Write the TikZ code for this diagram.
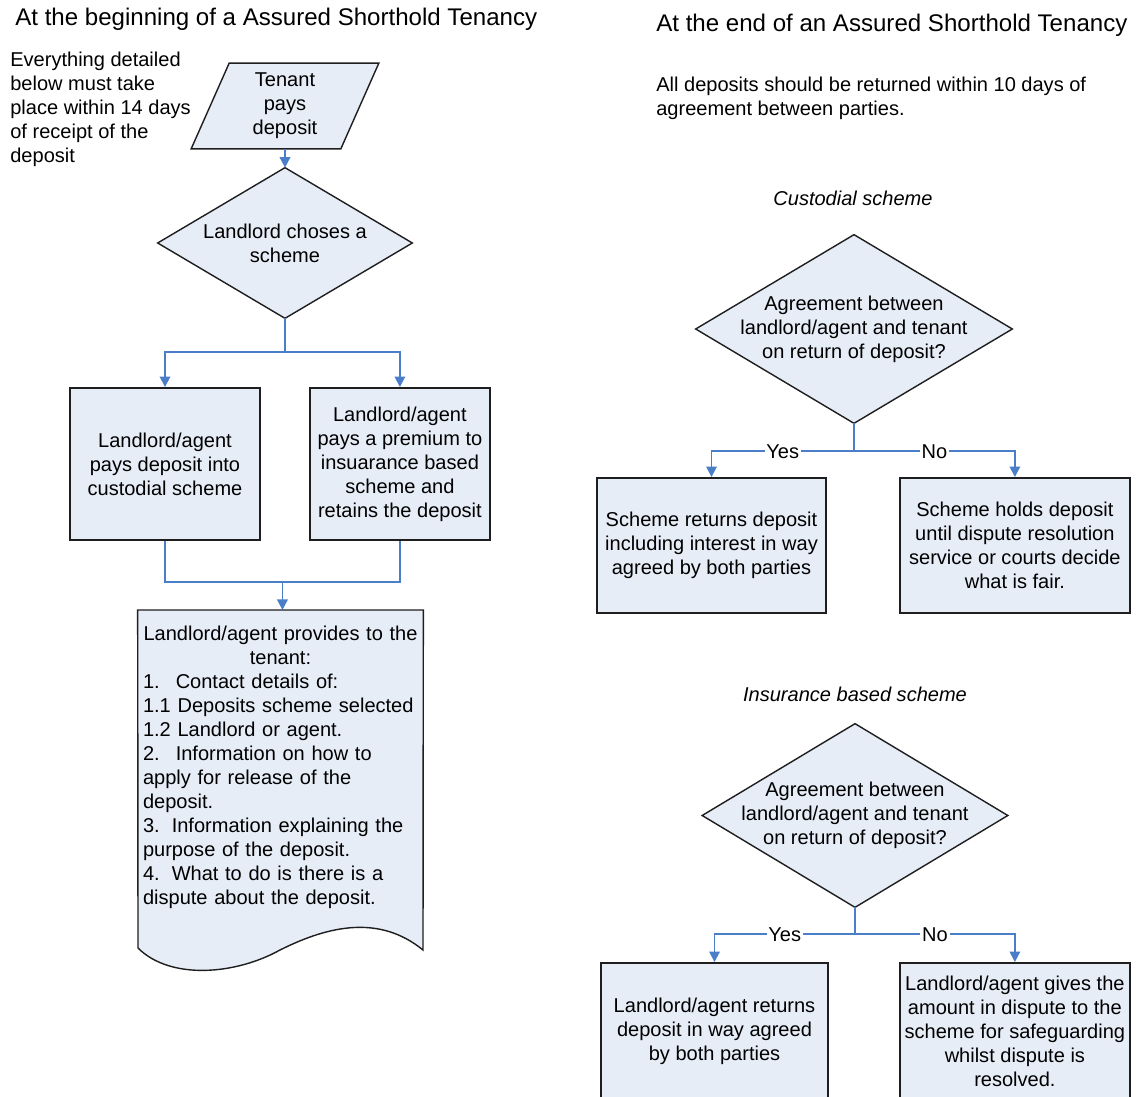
\documentclass[tikz,border=0pt]{standalone}
\usepackage{fontspec}
\setmainfont{Liberation Sans}
\usetikzlibrary{arrows.meta, positioning, calc, backgrounds}

\definecolor{boxfill}{RGB}{231,237,247}
\definecolor{flowblue}{RGB}{74,126,200}
\definecolor{edge}{RGB}{30,30,30}

\begin{document}
\begin{tikzpicture}[
  x=0.02cm, y=-0.02cm,
  every node/.style = {font=\fontsize{11.4}{13.66}\selectfont},
  box/.style = {rectangle, draw=edge, line width=1.1pt, fill=boxfill, align=center, inner sep=2pt},
  decision/.style = {rectangle, align=center, inner sep=0pt},
  outline/.style = {draw=edge, line width=0.8pt, fill=boxfill},
  note/.style = {align=left, inner sep=0pt, anchor=north west},
  title/.style = {font=\fontsize{13.7}{16}\selectfont, inner sep=0pt, anchor=west},
  scheme_title/.style = {font=\fontsize{11.4}{13.66}\selectfont\itshape, inner sep=0pt},
  answer/.style = {fill=white, inner sep=1pt},
  arrow/.style = {draw=flowblue, line width=1pt, -{Triangle[width=6pt, length=6pt]}},
  link/.style = {draw=flowblue, line width=1pt}
]
\path[use as bounding box] (0,0) rectangle (1138,1097);

%--------------------------------------------------
% Headings and notes
%--------------------------------------------------
\node[title] (title_start) at (15,19) {At the beginning of a Assured Shorthold Tenancy};
\node[title] (title_end) at (656,25) {At the end of an Assured Shorthold Tenancy};

\node[note] (note_start) at (10,52)
  {Everything detailed\\below must take\\place within 14 days\\of receipt of the\\deposit};
\node[note] (note_end) at (656,77)
  {All deposits should be returned within 10 days of\\agreement between parties.};

%--------------------------------------------------
% Start of the tenancy
%--------------------------------------------------
\node[decision, minimum width=2.98cm, minimum height=1.7cm] (tenant) at (285,106)
  {Tenant\\pays\\deposit};
\node[decision, minimum width=5.08cm, minimum height=3cm] (choose) at (285,243)
  {Landlord choses a\\scheme};

\node[box, minimum width=3.8cm, minimum height=3.04cm] (custodial) at (165,464)
  {Landlord/agent\\pays deposit into\\custodial scheme};
\node[box, minimum width=3.6cm, minimum height=3.04cm, right=0.96cm of custodial] (insurance)
  {Landlord/agent\\pays a premium to\\insuarance based\\scheme and\\retains the deposit};

% document shape (outline drawn on background)
\node[anchor=north, text width=5.5cm, inner xsep=0.1cm, inner ysep=0.31cm] (provides) at (280.5,610)
  {\centering Landlord/agent provides to the\\tenant:\par
   \raggedright
   1.\hspace{0.8em}Contact details of:\\
   1.1 Deposits scheme selected\\
   1.2 Landlord or agent.\\
   2.\hspace{0.8em}Information on how to\\
   apply for release of the\\
   deposit.\\
   3.\hspace{0.6em}Information explaining the\\
   purpose of the deposit.\\
   4.\hspace{0.6em}What to do is there is a\\
   dispute about the deposit.};

%--------------------------------------------------
% End of the tenancy: custodial scheme
%--------------------------------------------------
\node[scheme_title] (custodial_title) at (853,198) {Custodial scheme};
\node[decision, minimum width=6.32cm, minimum height=3.76cm] (custq) at (854,329)
  {Agreement between\\landlord/agent and tenant\\on return of deposit?};

\node[box, minimum width=4.58cm, minimum height=2.7cm] (returns) at (711.5,545.5)
  {Scheme returns deposit\\including interest in way\\agreed by both parties};
\node[box, minimum width=4.6cm, minimum height=2.7cm, right=1.44cm of returns] (holds)
  {Scheme holds deposit\\until dispute resolution\\service or courts decide\\what is fair.};

%--------------------------------------------------
% End of the tenancy: insurance based scheme
%--------------------------------------------------
\node[scheme_title] (insurance_title) at (855,694) {Insurance based scheme};
\node[decision, minimum width=6.1cm, minimum height=3.66cm] (insq) at (855,815.5)
  {Agreement between\\landlord/agent and tenant\\on return of deposit?};

\node[box, minimum width=4.54cm, minimum height=2.72cm] (landlord_returns) at (714.5,1031)
  {Landlord/agent returns\\deposit in way agreed\\by both parties};
\node[box, minimum width=4.6cm, minimum height=2.72cm, right=1.4cm of landlord_returns] (safeguard)
  {Landlord/agent gives the\\amount in dispute to the\\scheme for safeguarding\\whilst dispute is\\resolved.};

%--------------------------------------------------
% Connections
%--------------------------------------------------
\draw[arrow] (tenant.south) -- (choose.north);

\draw[arrow] (choose.south) -- ++(0,34) -| (custodial.north);
\draw[arrow] (choose.south) -- ++(0,34) -| (insurance.north);

\draw[link] (custodial.south) -- ++(0,41) -| (insurance.south);
\coordinate (merge) at ($(custodial.south)!0.5!(insurance.south)+(0,41)$);
\draw[arrow] (merge) -- (merge |- provides.north);

\draw[arrow] (custq.south) -- ++(0,28) -| node[answer, pos=0.25] {Yes} (returns.north);
\draw[arrow] (custq.south) -- ++(0,28) -| node[answer, pos=0.25] {No} (holds.north);

\draw[arrow] (insq.south) -- ++(0,27) -| node[answer, pos=0.25] {Yes} (landlord_returns.north);
\draw[arrow] (insq.south) -- ++(0,27) -| node[answer, pos=0.25] {No} (safeguard.north);

%--------------------------------------------------
% Outlines behind the text
%--------------------------------------------------
\begin{scope}[on background layer]
  \path[outline] ($(tenant.south west)+(-19,0)$) -- ($(tenant.north west)+(19,0)$)
    -- ($(tenant.north east)+(19,0)$) -- ($(tenant.south east)+(-19,0)$) -- cycle;
  \foreach \d in {choose, custq, insq}
    \path[outline] (\d.north) -- (\d.east) -- (\d.south) -- (\d.west) -- cycle;
  \path[outline] (provides.north west) -- (provides.north east) -- (423,950)
    .. controls (380,915) and (330,925) .. (280,950)
    .. controls (235,975) and (170,980) .. (138,948) -- cycle;
\end{scope}

\end{tikzpicture}
\end{document}
